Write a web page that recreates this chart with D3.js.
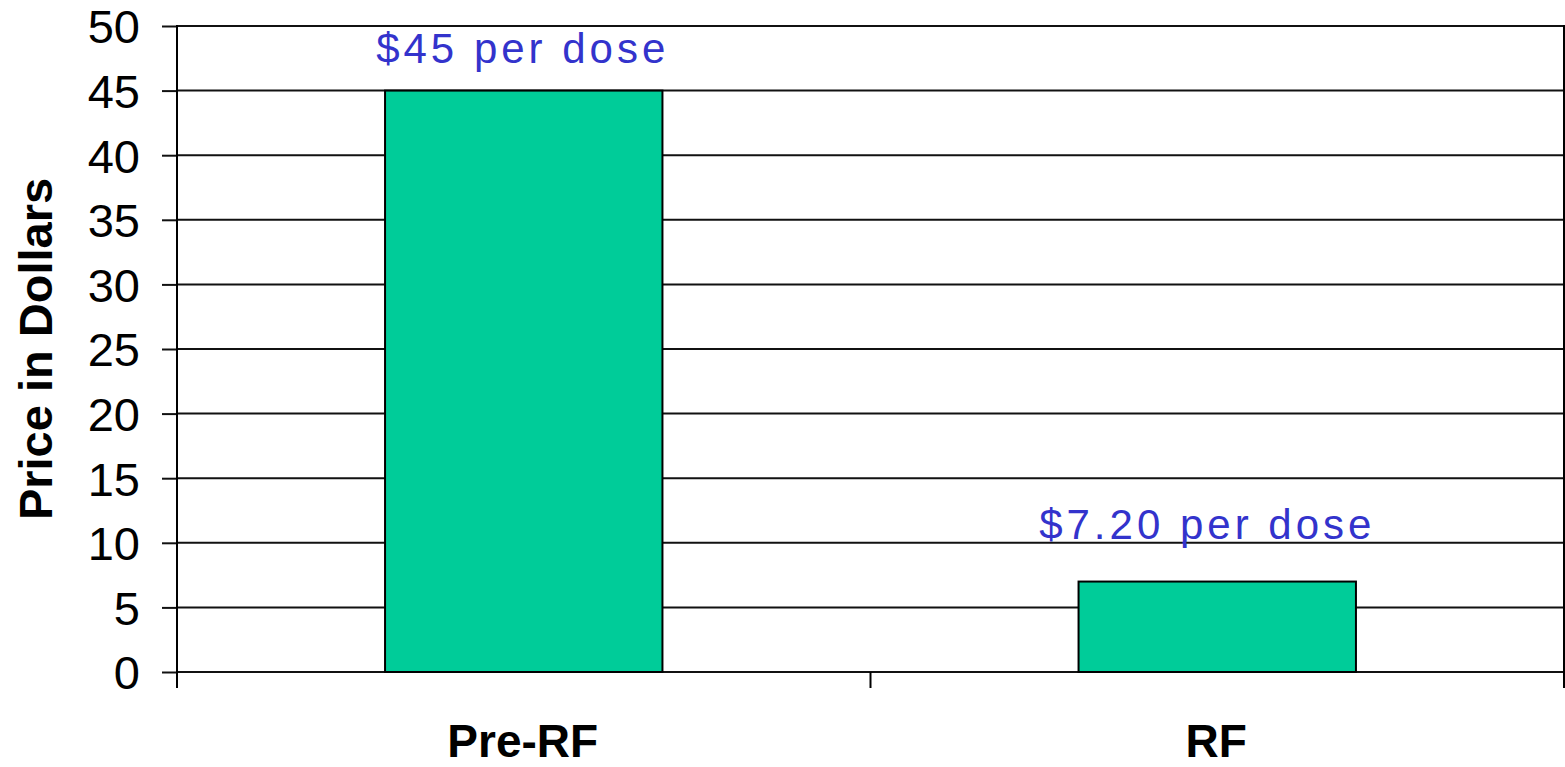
<html>
<head>
  <style type="text/css">
    body { margin: 0; background: #fff; }
    text { font-family: "Liberation Sans", Arial, sans-serif; }
  </style>
</head>
<body>
  <div id="viz"></div>
  <script src="https://cdnjs.cloudflare.com/ajax/libs/d3/7.8.5/d3.min.js"></script>
  <script>
  // data
  const categories = ['Pre-RF', 'RF'];
  const prices = [45, 7];
  const priceLabels = ['$45 per dose', '$7.20 per dose'];
  const yTicks = [0, 5, 10, 15, 20, 25, 30, 35, 40, 45, 50];

  const W = 1565, H = 767;
  const margin = { top: 26, right: 1, bottom: 95, left: 177 };
  const width = W - margin.left - margin.right,
        height = H - margin.top - margin.bottom;

  const svg = d3.select('#viz').append('svg')
    .attr('width', W)
    .attr('height', H);

  const g = svg.append('g')
    .attr('transform', 'translate(' + margin.left + ',' + margin.top + ')');

  const y = d3.scaleLinear().domain([0, 50]).range([height, 0]);
  const x = d3.scaleBand().domain(categories).range([0, width]).padding(0);
  const barW = x.bandwidth() * 0.4;

  // gridlines
  g.append('g').selectAll('line').data(yTicks).enter().append('line')
    .attr('x1', 0).attr('x2', width + 1)
    .attr('y1', d => y(d)).attr('y2', d => y(d))
    .attr('stroke', '#111').attr('stroke-width', 2);

  // bars
  g.selectAll('rect.bar').data(prices).enter().append('rect')
    .attr('class', 'bar')
    .attr('x', (d, i) => x(categories[i]) + (x.bandwidth() - barW) / 2)
    .attr('width', barW)
    .attr('y', d => y(d))
    .attr('height', d => height - y(d))
    .attr('fill', '#00CC99')
    .attr('stroke', '#000')
    .attr('stroke-width', 2);

  // value labels (placed as free text boxes in the original, so offsets differ)
  const labelLift = [28, 43], labelShift = [-1, -10];
  g.selectAll('text.val').data(prices).enter().append('text')
    .attr('class', 'val')
    .attr('x', (d, i) => x(categories[i]) + x.bandwidth() / 2 + labelShift[i])
    .attr('y', (d, i) => y(d) - labelLift[i])
    .attr('text-anchor', 'middle')
    .attr('fill', '#3333CC')
    .style('font-size', '42px')
    .style('letter-spacing', '4px')
    .text((d, i) => priceLabels[i]);

  // y axis
  const yAxis = g.append('g')
    .call(d3.axisLeft(y).tickValues(yTicks).tickSize(15).tickPadding(22));
  yAxis.select('.domain').remove();
  yAxis.selectAll('.tick line').attr('stroke', '#111').attr('stroke-width', 2);
  yAxis.selectAll('.tick text')
    .style('font-size', '47px').attr('fill', '#000').attr('dy', '0.36em');
  g.append('line')
    .attr('x1', 0).attr('x2', 0).attr('y1', -1).attr('y2', height + 16)
    .attr('stroke', '#000').attr('stroke-width', 2);

  // x axis: ticks at band boundaries
  const xEdges = [0].concat(categories.map(c => x(c) + x.bandwidth()));
  g.append('g').selectAll('line').data(xEdges).enter().append('line')
    .attr('x1', d => d).attr('x2', d => d)
    .attr('y1', height).attr('y2', height + 16)
    .attr('stroke', '#000').attr('stroke-width', 2);
  g.append('line')
    .attr('x1', width).attr('x2', width).attr('y1', -1).attr('y2', height)
    .attr('stroke', '#000').attr('stroke-width', 2);

  g.selectAll('text.cat').data(categories).enter().append('text')
    .attr('class', 'cat')
    .attr('x', d => x(d) + x.bandwidth() / 2 - 1)
    .attr('y', height + 85)
    .attr('text-anchor', 'middle')
    .style('font-size', '46px')
    .style('font-weight', 'bold')
    .text(d => d);

  // y axis title
  svg.append('text')
    .attr('transform', 'translate(52,349) rotate(-90)')
    .attr('text-anchor', 'middle')
    .style('font-size', '47px')
    .style('font-weight', 'bold')
    .text('Price in Dollars');
  </script>
</body>
</html>
